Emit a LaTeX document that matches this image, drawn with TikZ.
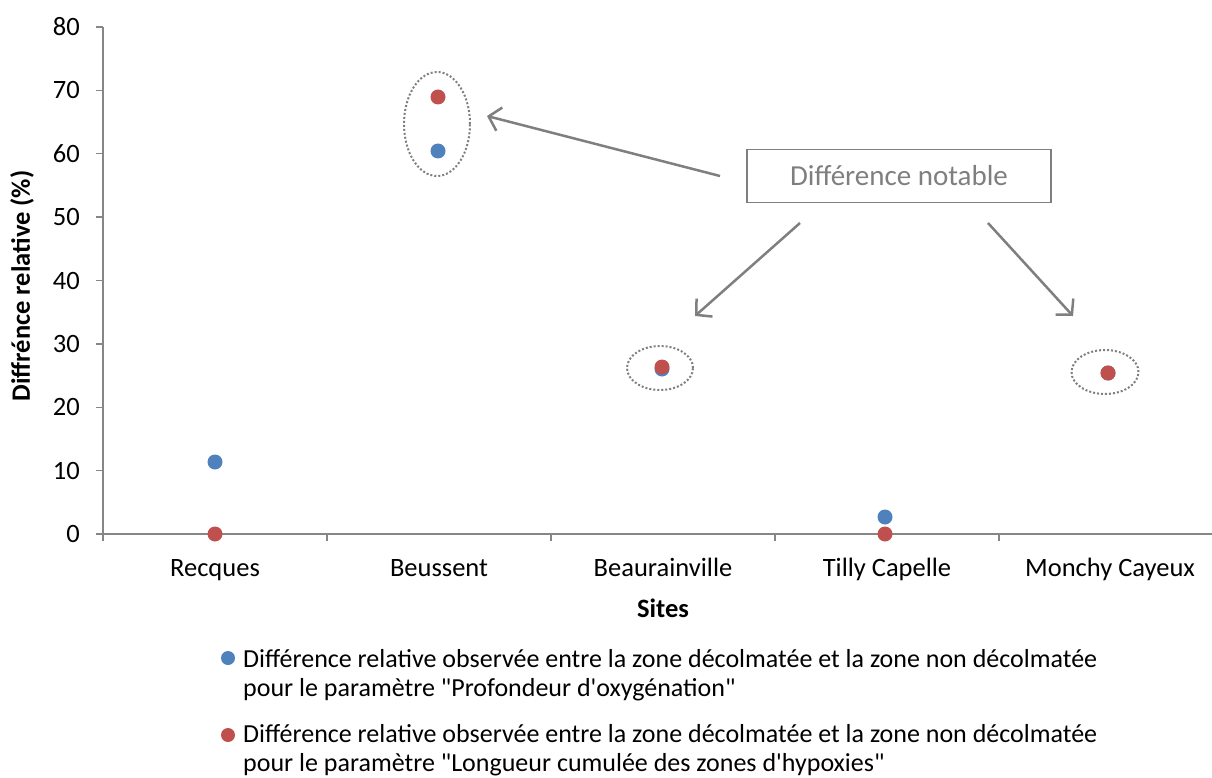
\documentclass[tikz,border=0pt]{standalone}
\usepackage{fontspec}
\setmainfont{Carlito}
\usetikzlibrary{arrows.meta,shapes.geometric}
\definecolor{sblue}{HTML}{4F81BD}
\definecolor{sred}{HTML}{C0504D}
\definecolor{axisgray}{HTML}{868686}
\definecolor{notegray}{HTML}{7F7F7F}
\tikzset{
  axisline/.style={draw=axisgray,line width=1.3pt},
  ptb/.style={circle,fill=sblue,inner sep=0pt,minimum size=15pt},
  ptr/.style={circle,fill=sred,inner sep=0pt,minimum size=15pt},
  ring/.style={ellipse,draw=notegray,line width=2pt,dash pattern=on 2pt off 2pt,inner sep=0pt},
  notearrow/.style={draw=notegray,line width=2.5pt,-{Straight Barb[length=11pt,width=24pt,line width=2.5pt]}},
  ylab/.style={anchor=east,inner sep=0pt,font=\fontsize{26.5}{30}\selectfont},
  xlab/.style={anchor=base,inner sep=0pt,font=\fontsize{26.5}{30}\selectfont},
  legtext/.style={anchor=west,align=left,inner sep=0pt,font=\fontsize{26}{29}\selectfont},
}
\begin{document}
\begin{tikzpicture}[x=1pt,y=-1pt]
\useasboundingbox (0,0) rectangle (1212,778);
% axes
\coordinate (o) at (103,534);
\coordinate (ytop) at (103,27);
\coordinate (ybot) at (103,541);
\coordinate (xend) at (1212,534);
\draw[axisline] (ybot) -- (ytop);
\draw[axisline] (o) -- (xend);
\foreach \v in {0,10,...,80}{
  \pgfmathsetmacro{\yy}{534-6.3375*\v}
  \draw[axisline] (96,\yy) -- (103,\yy);
  \node[ylab] (yl\v) at (80,\yy) {\v};
}
\foreach \i in {1,2,3,4}{
  \pgfmathsetmacro{\xx}{103+224*\i}
  \draw[axisline] (\xx,534) -- (\xx,541);
}
% category labels
\node[xlab] (c1) at (215,576) {Recques};
\node[xlab] (c2) at (439,576) {Beussent};
\node[xlab] (c3) at (663,576) {Beaurainville};
\node[xlab] (c4) at (887,576) {Tilly Capelle};
\node[xlab] (c5) at (1110,576) {Monchy Cayeux};
\node[xlab,font=\fontsize{26.5}{30}\selectfont\bfseries] (xt) at (663,617) {Sites};
\node[anchor=center,inner sep=0pt,font=\fontsize{26.5}{30}\selectfont\bfseries,rotate=90] (yt) at (22,286) {Diffrénce relative (\%)};
% data
\node[ptb] (b1) at (215,462) {};
\node[ptr] (r1) at (215,534) {};
\node[ptb] (b2) at (438,151) {};
\node[ptr] (r2) at (438,97) {};
\node[ptb] (b3) at (662,369) {};
\node[ptr] (r3) at (662,367) {};
\node[ptb] (b4) at (885,517) {};
\node[ptr] (r4) at (885,534) {};
\node[ptb] (b5) at (1108,373) {};
\node[ptr] (r5) at (1108,373) {};
% rings
\node[ring,minimum width=66pt,minimum height=104pt] (e2) at (437,124) {};
\node[ring,minimum width=66pt,minimum height=44pt] (e3) at (660,368) {};
\node[ring,minimum width=67pt,minimum height=44pt] (e5) at (1105,372) {};
% note
\node[draw=notegray,line width=1.5pt,minimum width=304pt,minimum height=53pt,text=notegray,font=\fontsize{29}{32}\selectfont] (note) at (899,176) {Différence notable};
\coordinate (s1) at (720,176);
\coordinate (t1) at (487,116);
\coordinate (s2) at (800,223);
\coordinate (t2) at (695,316);
\coordinate (s3) at (988,223);
\coordinate (t3) at (1073,316);
\draw[notearrow] (s1) -- (t1);
\draw[notearrow] (s2) -- (t2);
\draw[notearrow] (s3) -- (t3);
% legend
\node[ptb,minimum size=14pt] (lb) at (228,658) {};
\node[legtext] (lt1) at (243,675) {Différence relative observée entre la zone décolmatée et la zone non décolmatée\\pour le paramètre \textquotedbl Profondeur d\textquotesingle oxygénation\textquotedbl};
\node[ptr,minimum size=14pt] (lr) at (228,735) {};
\node[legtext] (lt2) at (243,750) {Différence relative observée entre la zone décolmatée et la zone non décolmatée\\pour le paramètre \textquotedbl Longueur cumulée des zones d\textquotesingle hypoxies\textquotedbl};
\end{tikzpicture}
\end{document}
